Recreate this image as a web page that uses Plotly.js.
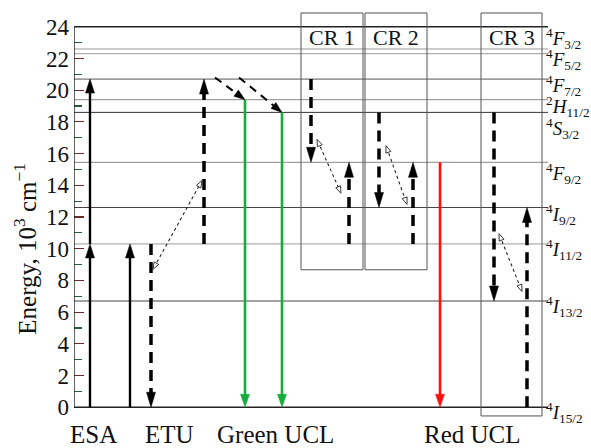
<!DOCTYPE html>
<html><head><meta charset="utf-8">
<script src="https://cdn.plot.ly/plotly-3.0.1.min.js"></script>
<style>html,body{margin:0;padding:0;background:#fff}</style>
</head><body><div id="chart" style="width:591px;height:448px"></div>
<script>
// ---- data ----
const levelLabels = [
  '<sup>4</sup><i>I</i><sub>15/2</sub>', '<sup>4</sup><i>I</i><sub>13/2</sub>',
  '<sup>4</sup><i>I</i><sub>11/2</sub>', '<sup>4</sup><i>I</i><sub>9/2</sub>',
  '<sup>4</sup><i>F</i><sub>9/2</sub>', '<sup>4</sup><i>S</i><sub>3/2</sub>',
  '<sup>2</sup><i>H</i><sub>11/2</sub>', '<sup>4</sup><i>F</i><sub>7/2</sub>',
  '<sup>4</sup><i>F</i><sub>5/2</sub>', '<sup>4</sup><i>F</i><sub>3/2</sub>'];
const levelEnergies = [0, 6.7, 10.3, 12.6, 15.45, 18.6, 19.4, 20.7, 22.3, 22.6];
const levelLabelY = [-0.35, 6.35, 9.95, 12.15, 14.75, 17.6, 19.0, 20.3, 21.95, 23.25];
const topEnergy = 24;
const yTickVals = [0, 2, 4, 6, 8, 10, 12, 14, 16, 18, 20, 22, 24];
const yMinorVals = [1, 3, 5, 7, 9, 11, 13, 15, 17, 19, 21, 23];
const groupLabels = ['ESA', 'ETU', 'Green UCL', 'Red UCL'];
const groupX = [19, 95, 201, 398];
// solid absorption arrows
const solidX = [16, 16, 56];
const solidFrom = [0, 10.3, 0];
const solidTo = [10.3, 20.7, 10.3];
// dashed vertical (non-radiative / energy transfer) arrows
const dashX = [77, 130, 237, 275, 305, 339, 420, 453];
const dashFrom = [10.3, 10.3, 20.7, 10.3, 18.6, 10.3, 18.6, 0];
const dashTo = [0, 20.7, 15.45, 15.45, 12.6, 15.45, 6.7, 12.6];
// dashed diagonal relaxation arrows
const diagX0 = [141, 165], diagY0 = [20.8, 20.8];
const diagX1 = [171, 208], diagY1 = [19.4, 18.6];
// emission arrows
const greenX = [171, 208], greenFrom = [19.4, 18.6], greenTo = [0, 0];
const redX = [366], redFrom = [15.45], redTo = [0];
// dotted double-headed coupling arrows
const dotX0 = [79, 243, 312, 425], dotY0 = [8.7, 16.9, 16.5, 10.95];
const dotX1 = [128, 267, 333, 448], dotY1 = [14.3, 13.5, 12.8, 7.3];
// cross-relaxation boxes
const crLabels = ['CR 1', 'CR 2', 'CR 3'];
const crX0 = [227, 291, 407], crX1 = [289, 353, 468];
const crTop = [24.87, 24.87, 24.87], crBottom = [8.67, 8.67, -0.55];

// ---- geometry ----
const W = 591, H = 448, mL = 74, mR = 43, mT = 3, mB = 17;
const xRange = [0, W - mL - mR], yRange = [-1.5, 25.5];
const ppx = (W - mL - mR) / (xRange[1] - xRange[0]);
const ppu = (H - mT - mB) / (yRange[1] - yRange[0]);

const shapes = [];
const levelColors = ['#222', '#444', '#999', '#444', '#888', '#333', '#888', '#555', '#999', '#999'];
levelEnergies.forEach((e, i) => shapes.push({type: 'line', xref: 'x', yref: 'y',
  x0: xRange[0], x1: xRange[1], y0: e, y1: e,
  line: {color: levelColors[i], width: i === 0 ? 1.6 : 1}}));
shapes.push({type: 'line', xref: 'x', yref: 'y', x0: xRange[0], x1: xRange[1],
  y0: topEnergy, y1: topEnergy, line: {color: '#222', width: 1.4}});
shapes.push({type: 'line', xref: 'x', yref: 'y', x0: 0, x1: 0, y0: 0, y1: topEnergy,
  line: {color: '#222', width: 1.4}});
crLabels.forEach((_, i) => shapes.push({type: 'rect', xref: 'x', yref: 'y',
  x0: crX0[i], x1: crX1[i], y0: crBottom[i], y1: crTop[i],
  line: {color: '#555', width: 1}, fillcolor: 'rgba(0,0,0,0)'}));

function arrow(x0, y0, x1, y1, color, width, dash, len, hw, open, both) {
  const vx = (x1 - x0) * ppx, vy = (y1 - y0) * ppu;
  const n = Math.hypot(vx, vy), ux = vx / n, uy = vy / n;
  const head = (tx, ty, s) => {
    const dx = s * ux, dy = s * uy;
    const bx = tx - dx * len / ppx, by = ty - dy * len / ppu;
    const c1x = bx - dy * hw / ppx, c1y = by + dx * hw / ppu;
    const c2x = bx + dy * hw / ppx, c2y = by - dx * hw / ppu;
    shapes.push({type: 'path', xref: 'x', yref: 'y',
      path: `M${tx},${ty} L${c1x},${c1y} L${c2x},${c2y} Z`,
      fillcolor: open ? 'rgba(255,255,255,1)' : color,
      line: {color: color, width: open ? 0.9 : 0.5}});
  };
  let sx0 = x0, sy0 = y0;
  const k = open ? 0.3 : 0.85;
  const ex = x1 - ux * len / ppx * k, ey = y1 - uy * len / ppu * k;
  if (both) { sx0 = x0 + ux * len / ppx * k; sy0 = y0 + uy * len / ppu * k; }
  shapes.push({type: 'line', xref: 'x', yref: 'y', x0: sx0, y0: sy0, x1: ex, y1: ey,
    line: {color: color, width: width, dash: dash}});
  head(x1, y1, 1);
  if (both) head(x0, y0, -1);
}

solidX.forEach((x, i) => arrow(x, solidFrom[i], x, solidTo[i], '#000', 2.4, 'solid', 14, 4.5, false, false));
dashX.forEach((x, i) => arrow(x, dashFrom[i], x, dashTo[i], '#000', 3.5, '11px,7px', 15, 4.5, false, false));
diagX0.forEach((x, i) => arrow(x, diagY0[i], diagX1[i], diagY1[i], '#000', 2, '8px,6px', 11, 3.8, false, false));
greenX.forEach((x, i) => arrow(x, greenFrom[i], x, greenTo[i], '#14ac3c', 2.6, 'solid', 13, 4.5, false, false));
redX.forEach((x, i) => arrow(x, redFrom[i], x, redTo[i], '#ff1010', 2.6, 'solid', 13, 4.5, false, false));
dotX0.forEach((x, i) => arrow(x, dotY0[i], dotX1[i], dotY1[i], '#222', 1.1, 'dot', 7, 2.6, true, true));

// ---- annotations ----
const serif = 'Liberation Serif';
const annotations = [];
levelLabels.forEach((t, i) => annotations.push({xref: 'paper', yref: 'y', x: 0.993, y: levelLabelY[i],
  xanchor: 'left', yanchor: 'middle', text: t, showarrow: false, borderpad: 0,
  font: {family: serif, size: 19, color: '#111'}}));
groupLabels.forEach((t, i) => annotations.push({xref: 'x', yref: 'paper', x: groupX[i], y: (H - mB - 435) / (H - mT - mB),
  xanchor: 'center', yanchor: 'middle', text: t, showarrow: false, borderpad: 0,
  font: {family: serif, size: 25, color: '#111'}}));
crLabels.forEach((t, i) => annotations.push({xref: 'x', yref: 'y', x: (crX0[i] + crX1[i]) / 2, y: 23.3,
  xanchor: 'center', yanchor: 'middle', text: t, showarrow: false,
  font: {family: serif, size: 22, color: '#111'}}));
annotations.push({xref: 'paper', yref: 'y', x: (25 - mL) / (W - mL - mR), y: 10,
  xanchor: 'center', yanchor: 'middle', textangle: -90,
  text: 'Energy, 10<sup>3</sup> cm<sup>\u22121</sup>', showarrow: false,
  font: {family: serif, size: 25, color: '#111'}});

const layout = {
  width: W, height: H, margin: {l: mL, r: mR, t: mT, b: mB},
  paper_bgcolor: '#fff', plot_bgcolor: '#fff', showlegend: false,
  xaxis: {range: xRange, visible: false, fixedrange: true},
  yaxis: {range: yRange, showgrid: false, zeroline: false, showline: false,
    tickmode: 'array', tickvals: yTickVals, ticktext: yTickVals.map(String),
    ticks: 'inside', ticklen: 10, tickwidth: 1.2, tickcolor: '#6b2a2a',
    ticklabelstandoff: 4,
    tickfont: {family: serif, size: 23, color: '#111'},
    minor: {tickmode: 'array', tickvals: yMinorVals, ticks: 'inside', ticklen: 8, tickwidth: 1.2, tickcolor: '#2d5a3a'},
    fixedrange: true},
  shapes: shapes, annotations: annotations
};
Plotly.newPlot('chart', [{x: [], y: [], type: 'scatter'}], layout, {displayModeBar: false, staticPlot: true});
</script></body></html>
